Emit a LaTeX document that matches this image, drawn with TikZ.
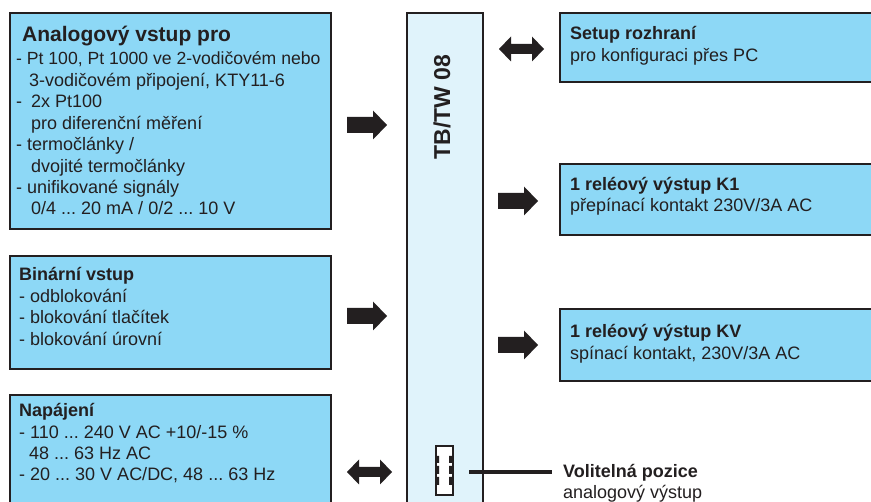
\documentclass[tikz,border=0pt]{standalone}
\usepackage{fontspec}
\setmainfont{Liberation Sans}
\frenchspacing
\definecolor{ink}{HTML}{231F20}
\definecolor{boxblue}{HTML}{8DD8F6}
\definecolor{colblue}{HTML}{E0F3FB}
\tikzset{
  box/.style={draw=ink, line width=2.4pt, fill=boxblue, inner sep=0pt, anchor=north west},
  column/.style={draw=ink, line width=2.4pt, fill=colblue, inner sep=0pt, anchor=north west},
  txt/.style={text=ink, inner sep=0pt, anchor=base west, font=\fontsize{18}{21}\selectfont},
  ttl/.style={txt, font=\fontsize{18}{21}\selectfont\bfseries},
  bigttl/.style={txt, font=\fontsize{21}{24}\selectfont\bfseries},
  rarr/.pic={\fill[ink] (0,-8) -- (26,-8) -- (26,-14.5) -- (40,0) -- (26,14.5) -- (26,8) -- (0,8) -- cycle;},
  darr/.pic={\fill[ink] (0,0) -- (12,-12.5) -- (12,-5) -- (33,-5) -- (33,-12.5) -- (45,0) -- (33,12.5) -- (33,5) -- (12,5) -- (12,12.5) -- cycle;}
}
\begin{document}
\begin{tikzpicture}[x=1pt,y=-1pt]
\useasboundingbox (0,0) rectangle (871,502);
\clip (0,0) rectangle (871,502);
\fill[white] (0,0) rectangle (871,502);
% left boxes
\node[box, minimum width=321pt, minimum height=216pt] (ana) at (9,12) {};
\node[box, minimum width=321pt, minimum height=113pt] (bin) at (9,255) {};
\node[box, minimum width=321pt, minimum height=130pt] (nap) at (9,394) {};
% centre column
\node[column, minimum width=76pt, minimum height=520pt] (dev) at (406,12) {};
\node[text=ink, inner sep=0pt, rotate=90, font=\fontsize{23}{26}\selectfont\bfseries] (devname) at (442,107) {TB/TW 08};
% right boxes
\node[box, minimum width=330pt, minimum height=69pt] (setup) at (559,12) {};
\node[box, minimum width=330pt, minimum height=71pt] (k1) at (559,163) {};
\node[box, minimum width=330pt, minimum height=72pt] (kv) at (559,308) {};
% texts analog
\node[bigttl] (anat) at (22,42) {Analogový vstup pro};
\node[txt, font=\fontsize{17.6}{21}\selectfont] (ana0) at (16,65) {- Pt 100, Pt 1000 ve 2-vodičovém nebo};
\node[txt] (ana1) at (29,86.4) {3-vodičovém připojení, KTY11-6};
\node[txt] (ana2) at (16,107.9) {-\hspace{9pt}2x Pt100};
\node[txt] (ana3) at (31,129.3) {pro diferenční měření};
\node[txt] (ana4) at (16,150.7) {- termočlánky /};
\node[txt] (ana5) at (31,172.1) {dvojité termočlánky};
\node[txt] (ana6) at (16,193.6) {- unifikované signály};
\node[txt] (ana7) at (31,215) {0/4 ... 20 mA / 0/2 ... 10 V};
% binary
\node[ttl] (bint) at (19,281) {Binární vstup};
\node[txt] (bin0) at (19,302.4) {- odblokování};
\node[txt] (bin1) at (19,323.8) {- blokování tlačítek};
\node[txt] (bin2) at (19,345.2) {- blokování úrovní};
% power
\node[ttl] (napt) at (19,417) {Napájení};
\node[txt] (nap0) at (19,438.3) {- 110 ... 240 V AC +10/-15 \%};
\node[txt] (nap1) at (29,459.6) {48 ... 63 Hz AC};
\node[txt] (nap2) at (19,481) {- 20 ... 30 V AC/DC, 48 ... 63 Hz};
% right texts
\node[ttl] (setupt) at (570,40) {Setup rozhraní};
\node[txt] (setup0) at (570,62) {pro konfiguraci přes PC};
\node[ttl] (k1t) at (570,191) {1 reléový výstup K1};
\node[txt] (k10) at (570,212) {přepínací kontakt 230V/3A AC};
\node[ttl] (kvt) at (570,338) {1 reléový výstup KV};
\node[txt] (kv0) at (570,360) {spínací kontakt, 230V/3A AC};
\node[ttl] (volt) at (563,478) {Volitelná pozice};
\node[txt] (vol0) at (563,499) {analogový výstup};
% block arrows
\pic at (347,125) {rarr};
\pic at (347,316) {rarr};
\pic at (347,472) {darr};
\pic at (499,49) {darr};
\pic at (498,201) {rarr};
\pic at (498,345) {rarr};
% optional slot
\node[draw=ink, line width=2pt, fill=white, minimum width=17pt, minimum height=49pt, inner sep=0pt] (slot) at (444,471) {};
\fill[ink] (436,456) rectangle (439,463) (436,466) rectangle (439,474) (436,477) rectangle (439,485);
\fill[ink] (449,456) rectangle (452,463) (449,466) rectangle (452,474) (449,477) rectangle (452,485);
\coordinate (la) at (469,472);
\coordinate (lb) at (552,472);
\draw[ink, line width=3.2pt] (la) -- (lb);
\end{tikzpicture}
\end{document}
